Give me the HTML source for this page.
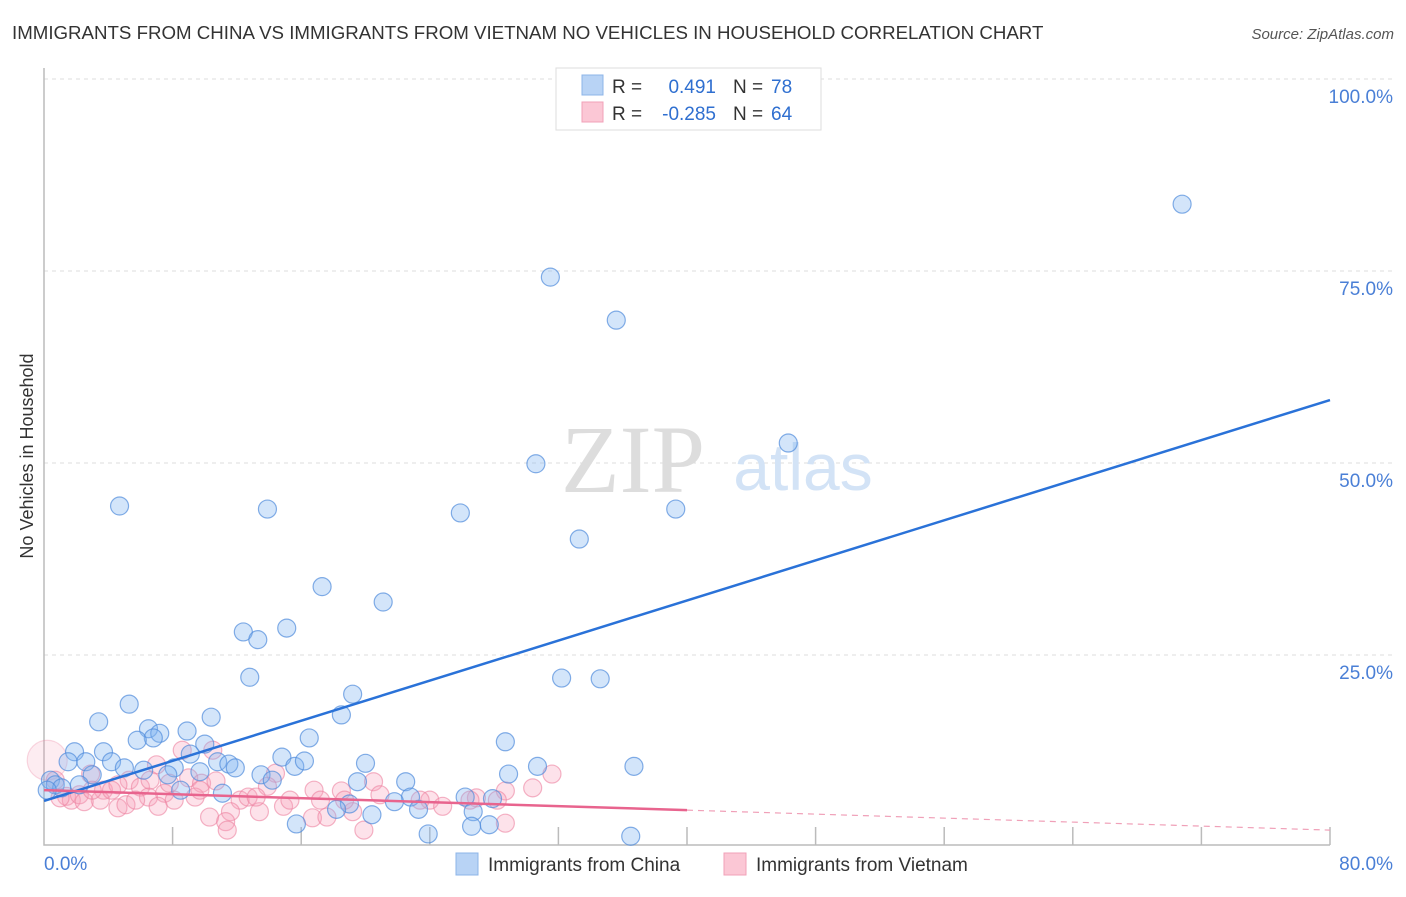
<!DOCTYPE html>
<html><head><meta charset="utf-8"><style>
body{margin:0;background:#fff;font-family:"Liberation Sans",sans-serif}
svg text{font-family:"Liberation Sans",sans-serif}
</style></head><body>
<svg id="c" width="1406" height="892">
<text x="12" y="39" font-size="18.7" fill="#333">IMMIGRANTS FROM CHINA VS IMMIGRANTS FROM VIETNAM NO VEHICLES IN HOUSEHOLD CORRELATION CHART</text>
<text x="1394" y="39" font-size="15" fill="#555" font-style="italic" text-anchor="end">Source: ZipAtlas.com</text>
<text x="33" y="456" font-size="18" fill="#333" text-anchor="middle" transform="rotate(-90 33 456)">No Vehicles in Household</text>
<g id="grid"></g>
<text x="633" y="492" font-size="96" fill="#ddd" text-anchor="middle" font-family="Liberation Serif" style="font-family:'Liberation Serif',serif">ZIP</text>
<text x="803" y="490" font-size="66" fill="#d3e3f6" text-anchor="middle">atlas</text>
<g id="pts"></g>
<g id="lines"></g>
<g>
<rect x="556" y="68" width="265" height="62" fill="#fff" stroke="#ddd"/>
<rect x="582" y="75" width="21" height="20" fill="#b8d3f5" stroke="#8db5e8"/>
<rect x="582" y="102" width="21" height="20" fill="#fbc7d5" stroke="#f2a0b8"/>
<text x="612" y="93" font-size="19" fill="#333">R =</text>
<text x="716" y="93" font-size="19" fill="#2f6fd0" text-anchor="end">0.491</text>
<text x="733" y="93" font-size="19" fill="#333">N =</text>
<text x="771" y="93" font-size="19" fill="#2f6fd0">78</text>
<text x="612" y="120" font-size="19" fill="#333">R =</text>
<text x="716" y="120" font-size="19" fill="#2f6fd0" text-anchor="end">-0.285</text>
<text x="733" y="120" font-size="19" fill="#333">N =</text>
<text x="771" y="120" font-size="19" fill="#2f6fd0">64</text>
</g>
<g>
<rect x="456" y="853" width="22" height="22" fill="#b8d3f5" stroke="#8db5e8"/>
<text x="488" y="871" font-size="19" fill="#333">Immigrants from China</text>
<rect x="724" y="853" width="22" height="22" fill="#fbc7d5" stroke="#f2a0b8"/>
<text x="756" y="871" font-size="19" fill="#333">Immigrants from Vietnam</text>
</g>
</svg>
<script>
const yTicks=[25,50,75,100];
const yTickLabels=["25.0%","50.0%","75.0%","100.0%"];
const xTicks=[0,8,16,24,32,40,48,56,64,72,80];
const chinaX=[70.8,31.5,35.6,46.3,30.6,4.7,13.9,25.9,39.3,33.3,17.3,21.1,12.4,13.3,15.1,12.8,32.2,34.6,19.2,5.3,3.4,18.5,10.4,6.5,8.9,7.2,6.8,5.8,16.5,10.0,28.7,1.9,3.7,9.1,14.8,10.8,11.5,20.0,4.2,1.5,2.6,5.0,8.1,11.9,15.6,16.2,30.7,36.7,6.2,9.7,13.5,14.2,7.7,3.0,28.9,19.5,22.5,11.1,8.5,0.4,0.7,1.1,0.2,22.8,21.8,19.0,18.2,23.3,26.2,27.9,26.7,15.7,20.4,26.6,27.7,23.9,36.5,2.2];
const chinaY=[83.7,74.2,68.6,52.6,49.9,44.4,44.0,43.5,44.0,40.1,33.9,31.9,28.0,27.0,28.5,22.1,22.0,21.9,19.9,18.6,16.3,17.2,16.9,15.4,15.1,14.8,14.2,13.9,14.2,13.4,13.7,12.4,12.4,12.1,11.7,11.1,10.8,10.9,11.1,11.1,11.1,10.3,10.3,10.3,10.5,11.2,10.5,10.5,10.0,9.8,9.4,8.7,9.4,9.4,9.5,8.5,8.5,7.0,7.4,8.7,8.1,7.7,7.4,6.5,5.9,5.6,4.9,4.9,6.5,6.3,4.6,3.0,4.2,2.7,2.9,1.7,1.4,8.1];
const vietX=[0.2,5.3,8.6,10.5,14.4,7.0,9.0,9.8,2.9,3.7,4.6,3.5,1.4,1.7,2.2,6.0,6.5,7.5,8.1,9.4,10.7,12.2,12.7,13.9,16.8,18.5,20.5,24.0,24.8,26.9,28.7,30.4,31.6,16.7,17.6,19.2,14.9,11.6,10.3,11.3,11.4,19.9,28.7,13.4,4.6,5.1,7.1,2.5,1.0,5.7,7.8,4.2,9.7,13.2,15.3,17.2,18.7,20.9,23.4,26.5,28.2,6.6,3.0,0.7];
const vietY=[11.3,8.7,12.6,12.6,9.6,10.7,9.0,8.3,9.5,7.4,8.1,6.1,6.6,6.1,6.8,7.8,6.5,7.0,6.1,6.5,8.6,6.1,6.5,7.9,7.4,7.3,8.5,6.1,5.3,6.4,7.3,7.7,9.5,3.8,3.9,4.6,5.3,4.6,3.9,3.3,2.2,2.2,3.1,4.6,5.1,5.5,5.3,5.9,6.4,6.1,8.3,7.4,7.4,6.5,6.1,6.1,6.1,6.8,6.1,6.1,6.1,8.7,7.4,8.7];
const chinaTrend=[6.0,58.2];
const vietTrend=[7.4,2.2];
const vietSolidEnd=40;
const X=v=>44+v*16.075, Y=v=>847-v*7.68;
const NS="http://www.w3.org/2000/svg";
function mk(t,a,p){const e=document.createElementNS(NS,t);for(const k in a)e.setAttribute(k,a[k]);p.appendChild(e);return e;}
const grid=document.getElementById('grid');
yTicks.forEach((t,i)=>{
 const l=mk('line',{x1:44,x2:1394,y1:Y(t),y2:Y(t),stroke:'#ddd','stroke-dasharray':'4,4'},grid);
 
 
 const tx=mk('text',{x:1393,y:Y(t)+24,'font-size':19,fill:'#4a7fd6','text-anchor':'end'},grid);
 tx.textContent=yTickLabels[i];
 
 
});
const ax=mk('path',{d:`M44 68 V845 H1330`,stroke:'#bbb',fill:'none','stroke-width':1.5},grid);


xTicks.slice(1).forEach(t=>{const l=mk('line',{x1:X(t),x2:X(t),y1:827,y2:845,stroke:'#bbb','stroke-width':1.5},grid);
 
 });
let t0=mk('text',{x:44,y:870,'font-size':19,fill:'#4a7fd6'},grid);t0.textContent=xTicks[0].toFixed(1)+'%';


let t1=mk('text',{x:1393,y:870,'font-size':19,fill:'#4a7fd6','text-anchor':'end'},grid);t1.textContent=xTicks[10].toFixed(1)+'%';


const pts=document.getElementById('pts');
vietX.forEach((x,i)=>{const c=mk('circle',{cx:X(x),cy:Y(vietY[i]),r:i===0?20:9,fill:i===0?'rgba(247,160,185,0.2)':'rgba(247,160,185,0.3)',stroke:i===0?'rgba(236,130,160,0.3)':'rgba(236,130,160,0.6)','stroke-width':1.2},pts);
 
 });
chinaX.forEach((x,i)=>{const c=mk('circle',{cx:X(x),cy:Y(chinaY[i]),r:9,fill:'rgba(130,180,240,0.35)',stroke:'rgba(80,140,220,0.7)','stroke-width':1.2},pts);
 
 });
const ln=document.getElementById('lines');
let a=mk('line',{x1:X(0),y1:Y(chinaTrend[0]),x2:X(80),y2:Y(chinaTrend[1]),stroke:'#2a72d8','stroke-width':2.5},ln);


const vy=x=>vietTrend[0]+(vietTrend[1]-vietTrend[0])*x/80;
let b=mk('line',{x1:X(0),y1:Y(vy(0)),x2:X(vietSolidEnd),y2:Y(vy(vietSolidEnd)),stroke:'#e8648e','stroke-width':2.5},ln);


let d=mk('line',{x1:X(vietSolidEnd),y1:Y(vy(vietSolidEnd)),x2:X(80),y2:Y(vy(80)),stroke:'#f0a0b8','stroke-width':1.2,'stroke-dasharray':'6,5'},ln);


</script>
</body></html>
